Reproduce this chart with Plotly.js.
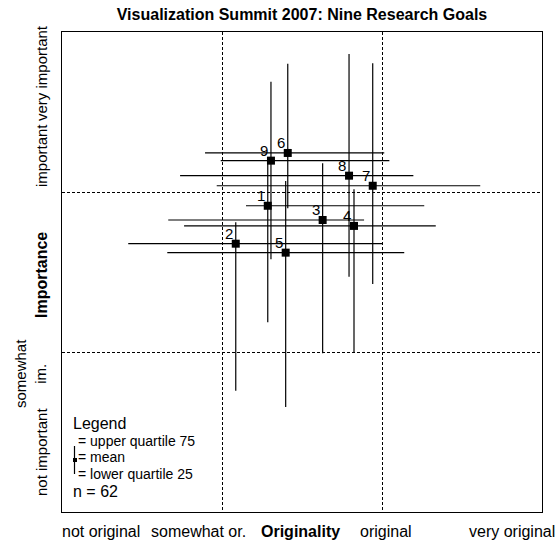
<!DOCTYPE html>
<html>
<head>
<meta charset="utf-8">
<script src="https://cdn.plot.ly/plotly-3.0.1.min.js"></script>
<style>html,body{margin:0;padding:0;background:#fff;}#chart{width:555px;height:543px;}</style>
</head>
<body>
<div id="chart"></div>
<script>
// Goal numbers
var goals = ['1','2','3','4','5','6','7','8','9'];
// Originality (x): mean, lower quartile (25), upper quartile (75)
var origMean = [2.286, 2.086, 2.629, 2.825, 2.398, 2.411, 2.942, 2.794, 2.306];
var origQ25  = [2.150, 1.414, 1.664, 1.763, 1.658, 1.894, 1.967, 1.738, 1.992];
var origQ75  = [3.264, 3.004, 2.888, 3.336, 3.139, 3.014, 3.614, 3.196, 3.046];
// Importance (y): mean, lower quartile (25), upper quartile (75)
var impMean = [2.914, 2.677, 2.825, 2.788, 2.621, 3.244, 3.039, 3.102, 3.196];
var impQ25  = [2.186, 1.758, 1.992, 1.998, 1.656, 2.898, 2.425, 2.471, 2.579];
var impQ75  = [3.181, 2.811, 3.179, 3.017, 3.069, 3.802, 3.804, 3.863, 3.689];
// Scale labels
var xScaleLabels = ['not original', 'somewhat or.', 'original', 'very original'];
var yScaleLabels = ['not important', 'somewhat<br>im.', 'important', 'very important'];
var legendLines = ['Legend', '= upper quartile 75', '= mean', '= lower quartile 25', 'n = 62'];

var FONT = 'Arial, "Liberation Sans", Helvetica, sans-serif';

var trace = {
  type: 'scatter',
  mode: 'markers',
  x: origMean,
  y: impMean,
  marker: {symbol: 'square', size: 8, color: '#000'},
  error_x: {
    type: 'data', symmetric: false,
    array: origQ75.map(function(v, i){ return v - origMean[i]; }),
    arrayminus: origMean.map(function(v, i){ return v - origQ25[i]; }),
    width: 0, thickness: 1.2, color: '#000'
  },
  error_y: {
    type: 'data', symmetric: false,
    array: impQ75.map(function(v, i){ return v - impMean[i]; }),
    arrayminus: impMean.map(function(v, i){ return v - impQ25[i]; }),
    width: 0, thickness: 1.2, color: '#000'
  },
  cliponaxis: false,
  hoverinfo: 'none',
  showlegend: false
};

function pxX(px){ return (px - 62) / 480; }
function pxY(py){ return (512 - py) / 480; }

var annotations = [];
// goal number labels, anchored at each mean point
goals.forEach(function(g, i){
  annotations.push({text: g, x: origMean[i], y: impMean[i], xref: 'x', yref: 'y',
    xanchor: 'right', yanchor: 'bottom', xshift: -1, yshift: 0, showarrow: false,
    font: {family: FONT, size: 15, color: '#000'}});
});
// x scale labels
var xPos = [101, 198.7, 385.5, 512];
xScaleLabels.forEach(function(t, i){
  annotations.push({text: t, xref: 'paper', yref: 'paper', x: pxX(xPos[i]), y: pxY(531),
    xanchor: 'center', yanchor: 'middle', showarrow: false, font: {family: FONT, size: 16, color: '#000'}});
});
annotations.push({text: '<b>Originality</b>', xref: 'paper', yref: 'paper', x: pxX(300), y: pxY(531),
  xanchor: 'center', yanchor: 'middle', showarrow: false, font: {family: FONT, size: 16, color: '#000'}});
// y scale labels
var yPos = [452, 374, 156, 73];
var yX = [41, 30, 41, 41];
yScaleLabels.forEach(function(t, i){
  annotations.push({text: t, xref: 'paper', yref: 'paper', x: pxX(yX[i]), y: pxY(yPos[i]), textangle: -90,
    xanchor: 'center', yanchor: 'middle', showarrow: false, font: {family: FONT, size: 15, color: '#000'}});
});
annotations.push({text: '<b>Importance</b>', xref: 'paper', yref: 'paper', x: pxX(41), y: pxY(275), textangle: -90,
  xanchor: 'center', yanchor: 'middle', showarrow: false, font: {family: FONT, size: 16, color: '#000'}});
// legend text
var legY = [423, 440.5, 457, 473.5, 491];
var legX = [74, 79, 79, 79, 74];
var legSize = [16, 14, 14, 14, 16];
legendLines.forEach(function(t, i){
  annotations.push({text: t, xref: 'paper', yref: 'paper', x: pxX(legX[i]) - 0.004, y: pxY(legY[i]),
    xanchor: 'left', yanchor: 'middle', showarrow: false, borderpad: 0,
    font: {family: FONT, size: legSize[i], color: '#000'}});
});

var shapes = [
  {type: 'line', xref: 'paper', yref: 'paper', x0: pxX(74.5), x1: pxX(74.5), y0: pxY(474), y1: pxY(446),
   line: {color: '#000', width: 1.2}},
  {type: 'rect', xref: 'paper', yref: 'paper', x0: pxX(73), x1: pxX(77), y0: pxY(462), y1: pxY(458),
   line: {width: 0}, fillcolor: '#000'}
];

var axisCommon = {
  range: [1, 4], tickvals: [2, 3], showticklabels: false, ticks: '',
  showgrid: true, gridcolor: '#000', gridwidth: 1, griddash: '3px,2px',
  zeroline: false, showline: true, mirror: true, linecolor: '#000', linewidth: 1.3,
  fixedrange: true
};

var layout = {
  width: 555, height: 543,
  margin: {l: 62, r: 13, t: 32, b: 31},
  paper_bgcolor: '#fff', plot_bgcolor: '#fff',
  title: {text: '<b>Visualization Summit 2007: Nine Research Goals</b>', x: 0.5, xref: 'paper',
    y: 1 - 14 / 543, yref: 'container', xanchor: 'center', yanchor: 'middle',
    font: {family: FONT, size: 16, color: '#000'}},
  xaxis: Object.assign({}, axisCommon),
  yaxis: Object.assign({}, axisCommon),
  annotations: annotations,
  shapes: shapes,
  showlegend: false
};

Plotly.newPlot('chart', [trace], layout, {displayModeBar: false, staticPlot: true});
</script>
</body>
</html>
